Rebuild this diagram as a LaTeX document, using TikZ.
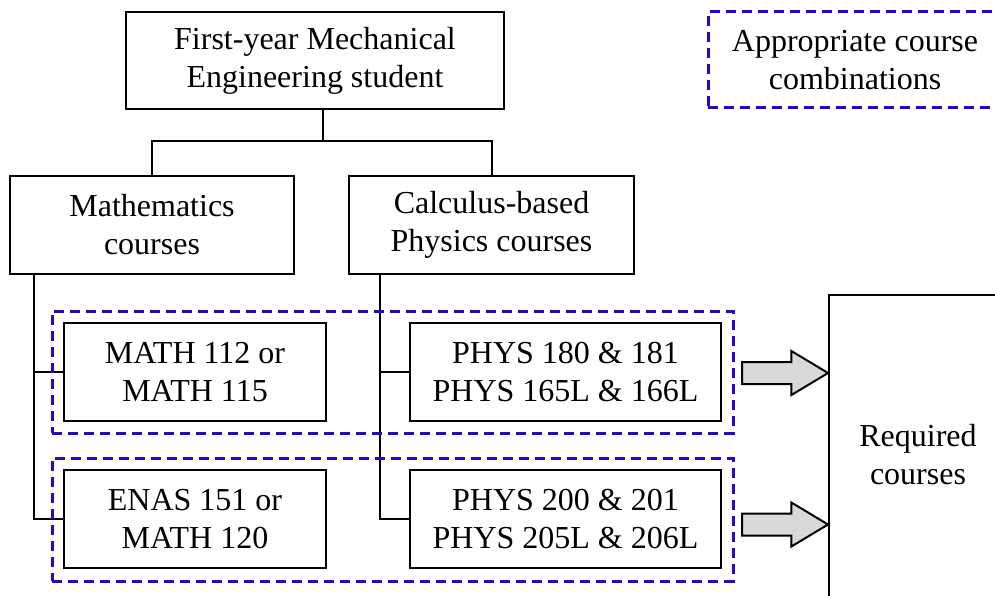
\documentclass[tikz,border=0pt]{standalone}
\usepackage{fontspec}
\setmainfont{Liberation Serif}
\usetikzlibrary{shapes.arrows}
\definecolor{combblue}{RGB}{36,8,200}
\definecolor{arrowgray}{RGB}{217,217,217}
\begin{document}
\begin{tikzpicture}[x=1pt, y=-1pt,
    txt/.style={align=center, inner sep=0pt,
      font=\fontsize{32}{38}\selectfont},
    box/.style={txt, draw, line width=2pt},
    combo/.style={txt, draw=combblue, line width=3pt,
      dash pattern=on 10pt off 6pt},
    link/.style={line width=2pt},
    bigarrow/.style={single arrow, draw, fill=arrowgray, line width=2pt,
      minimum height=86pt, inner sep=10pt, outer sep=0pt,
      single arrow head extend=11pt, single arrow tip angle=62,
      anchor=tip}]
    \useasboundingbox (0,0) rectangle (995,596);
    \node[box, minimum width=378pt, minimum height=97pt] (student)
      at (315,60.5) {First-year Mechanical\\Engineering student};
    \node[box, minimum width=284pt, minimum height=98pt] (math)
      at (152,225) {Mathematics\\courses};
    \node[box, minimum width=285pt, minimum height=98pt] (phys)
      at (491.5,225) {Calculus-based\\Physics courses};
    \node[box, minimum width=262pt, minimum height=98pt] (mathA)
      at (195,372) {MATH 112 or\\MATH 115};
    \node[box, minimum width=262pt, minimum height=98pt] (mathB)
      at (195,519) {ENAS 151 or\\MATH 120};
    \node[box, minimum width=311pt, minimum height=98pt] (physA)
      at (565.5,372) {PHYS 180 \& 181\\PHYS 165L \& 166L};
    \node[box, minimum width=311pt, minimum height=98pt] (physB)
      at (565.5,519) {PHYS 200 \& 201\\PHYS 205L \& 206L};
    \node[box, minimum width=178pt, minimum height=320pt] (req)
      at (918,455) {Required\\courses};
    \node[combo, minimum width=294pt, minimum height=96pt] (legend)
      at (855,60) {Appropriate course\\combinations};

    % tree
    \coordinate (fork) at (323,141);
    \coordinate (mtrunk) at (34,0);
    \coordinate (ptrunk) at (380,0);
    \draw[link] (student.south -| fork) -- (fork);
    \draw[link] (math.north) |- (fork) -| (phys.north);
    \draw[link] (math.south -| mtrunk) |- (mathB.west);
    \draw[link] (mtrunk |- mathA.west) -- (mathA.west);
    \draw[link] (phys.south -| ptrunk) |- (physB.west);
    \draw[link] (ptrunk |- physA.west) -- (physA.west);

    % course combinations
    \node[combo, minimum width=681pt, minimum height=122pt] (comboA)
      at (392.5,372) {};
    \node[combo, minimum width=681pt, minimum height=123pt] (comboB)
      at (392.5,519.5) {};
    \node[bigarrow] (arrowA) at (req.west |- 0,373) {};
    \node[bigarrow] (arrowB) at (req.west |- 0,524.5) {};
\end{tikzpicture}
\end{document}
